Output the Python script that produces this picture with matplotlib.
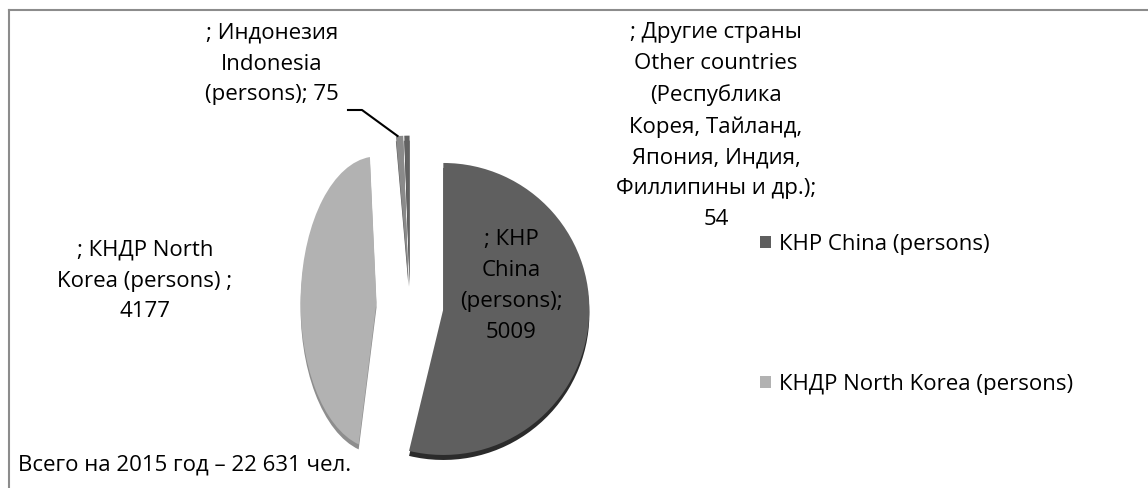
import numpy as np
import matplotlib.pyplot as plt
from matplotlib.transforms import Affine2D
from matplotlib.lines import Line2D

plt.rcParams['font.family'] = ['Open Sans', 'DejaVu Sans']

# данные: иностранные работники по странам (чел.)
countries = ['КНР China (persons)', 'КНДР North Korea (persons)',
             'Индонезия Indonesia (persons)', 'Другие страны Other countries']
persons = [5009, 4177, 75, 54]
label_heads = ['; КНР\nChina\n(persons);\n',
               '; КНДР North\nKorea (persons) ;\n',
               '; Индонезия\nIndonesia\n(persons); ',
               '; Другие страны\nOther countries\n(Республика\nКорея, Тайланд,\n'
               'Япония, Индия,\nФиллипины и др.);\n']
total_text = 'Всего на 2015 год – 22 631 чел.'

colors = ['#5f5f5f', '#b2b2b2', '#8a8a8a', '#626262']
rim_colors = ['#2b2b2b', '#8e8e8e', '#5a5a5a', '#3a3a3a']

W, H = 1148, 488
FS = 16

fig = plt.figure(figsize=(W / 100, H / 100), dpi=100)
ax = fig.add_axes([0, 0, 1, 1])

# центр и радиус круга (в пикселях, ось y вверх)
cx, cy = 410, H - 305
R = 146
explode = [0.23, 0.23, 0.16, 0.16]
xscale = [1.0, 0.52, 1.0, 1.0]   # перспектива: левая часть сжата


def draw_pie(center, cols, z):
    wedges, _ = ax.pie(persons, explode=[e * R for e in explode], colors=cols,
                       startangle=90, counterclock=False, radius=R, center=center,
                       frame=True, wedgeprops=dict(linewidth=0))
    for w, s in zip(wedges, xscale):
        wx, wy = w.center
        w.set_transform(Affine2D().translate(-wx, -wy).scale(s, 1)
                        .translate(wx, wy) + ax.transData)
        w.set_zorder(z)
    return wedges


draw_pie((cx, cy - 5), rim_colors, 1)
wedges = draw_pie((cx, cy), colors, 2)

ax.set_aspect('auto')
ax.set_xlim(0, W)
ax.set_ylim(0, H)
ax.axis('off')

# подписи долей
label_pos = [(511, H - 286), (145, H - 281), (272, H - 64), (716, H - 126)]
for head, v, (x, y) in zip(label_heads, persons, label_pos):
    ax.text(x, y, f'{head}{v}', ha='center', va='center', multialignment='center',
            fontsize=FS, linespacing=1.62, color='black', zorder=3)

# выноска для Индонезии
w = wedges[2]
mid = (w.theta1 + w.theta2) / 2
tip = (w.center[0] + R * np.cos(np.radians(mid)) - 2,
       w.center[1] + R * np.sin(np.radians(mid)))
ax.plot([348, 362, tip[0]], [H - 110, H - 110, tip[1]], color='black', lw=1.5, zorder=3)

# легенда только для двух крупных стран
ax.legend(wedges[:2], countries[:2], loc='upper left',
          bbox_to_anchor=(760 / W, 1 - 234 / H), frameon=False, fontsize=FS,
          handlelength=0.5, handleheight=0.5, handletextpad=0.35, labelspacing=5.35,
          borderpad=0, borderaxespad=0)

ax.text(18, H - 465, total_text, ha='left', va='center', fontsize=FS, zorder=3)

# рамка (видны только верх и левая сторона)
fig.add_artist(Line2D([9 / W, 1], [1 - 10 / H, 1 - 10 / H], color='#8c8c8c', lw=1.5))
fig.add_artist(Line2D([9 / W, 9 / W], [0, 1 - 10 / H], color='#8c8c8c', lw=1.5))

fig.savefig('out.png', dpi=100)
